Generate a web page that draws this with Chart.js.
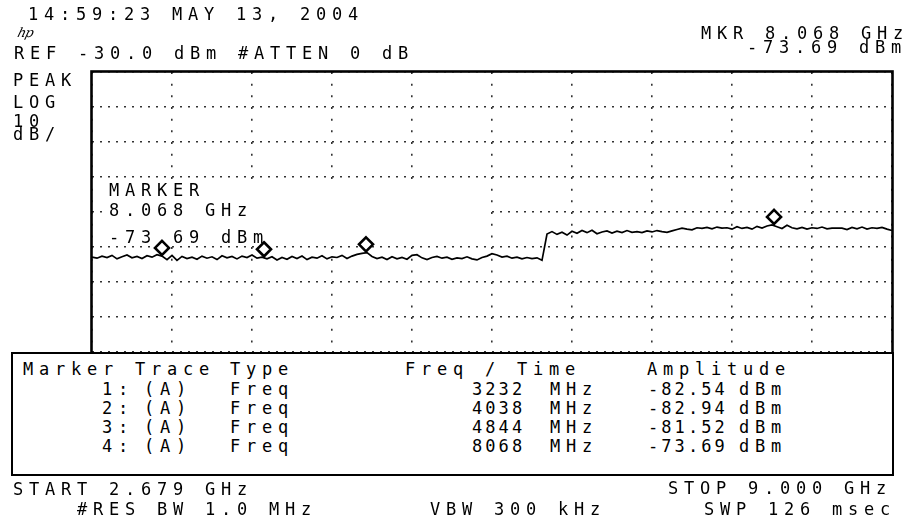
<!DOCTYPE html>
<html>
<head>
<meta charset="utf-8">
<script src="https://cdn.jsdelivr.net/npm/chart.js@4.4.1/dist/chart.umd.min.js"></script>
<style>
  body { margin: 0; background: #fff; }
  #wrap { position: relative; width: 906px; height: 521px; overflow: hidden; background: #fff; }
  #plot { position: absolute; left: 0; top: 0; }
  .t { position: absolute; font-family: "DejaVu Sans Mono", monospace; font-size: 17px; line-height: 17px;
       letter-spacing: 5.77px; white-space: pre; color: #000; z-index: 3; }
  .n { letter-spacing: 3.07px; }
  #table { position: absolute; left: 11px; top: 352px; width: 883px; height: 124px; box-sizing: border-box;
           border: 2.3px solid #000; background: #fff; z-index: 2; }
  #logo { position: absolute; left: 18px; top: 25px; font: italic 13px "DejaVu Serif", serif; letter-spacing: -1px;
          transform: skewX(-15deg); z-index: 3; }
</style>
</head>
<body>
<div id="wrap">
  <canvas id="plot" width="906" height="521"></canvas>
  <div id="table"></div>
  <div id="logo">hp</div>
</div>
<script>
// sweep settings
const START_MHZ = 2679;
const STOP_MHZ = 9000;
const REF_DBM = -30;
const DB_PER_DIV = 10;

// trace amplitude (dBm), 161 sweep points from start to stop
const trace = [
  -82.9, -83.2, -82.6, -83.0, -82.4, -83.4, -82.8, -82.3, -83.1, -82.7,
  -83.3, -82.5, -82.9, -82.2, -82.6, -83.6, -82.4, -83.8, -82.7, -83.3,
  -82.9, -83.5, -82.6, -83.2, -82.8, -83.6, -82.5, -83.1, -82.7, -83.4,
  -82.6, -83.0, -82.3, -83.2, -82.9, -83.4, -82.8, -83.7, -83.0, -83.5,
  -82.7, -83.3, -82.6, -83.6, -82.9, -83.2, -82.5, -83.4, -82.8, -83.0,
  -82.4, -83.3, -82.6, -82.1, -81.8, -81.6, -82.7, -83.3, -82.9, -83.6,
  -82.8, -83.4, -83.0, -83.5, -82.4, -82.2, -83.1, -83.6, -83.0, -82.7,
  -83.2, -82.9, -83.5, -83.1, -83.3, -82.8, -83.4, -83.7, -83.0, -82.6,
  -81.9, -82.3, -82.9, -82.6, -83.2, -82.9, -83.4, -83.0, -83.3, -83.1,
  -83.8, -76.3, -75.6, -76.4, -75.8, -76.6, -75.5, -76.1, -75.3, -75.9,
  -75.2, -76.2, -75.7, -75.4, -76.0, -75.5, -75.9, -75.3, -75.8, -75.6,
  -75.9, -75.4, -75.7, -75.3, -75.6, -75.8, -75.4, -75.0, -74.6, -74.9,
  -75.1, -74.5, -74.7, -74.4, -74.8, -74.3, -74.6, -74.5, -74.9, -74.2,
  -74.7, -74.4, -74.9, -74.1, -74.6, -74.0, -73.7, -74.2, -74.7, -73.8,
  -74.5, -74.8, -74.4, -74.9, -74.5, -74.7, -74.3, -74.8, -74.6, -74.6,
  -74.6, -75.0, -74.4, -74.8, -74.3, -74.9, -74.5, -74.7, -74.4, -74.9,
  -75.3
];

// marker table
const markerNum = [1, 2, 3, 4];
const markerTrace = ["(A)", "(A)", "(A)", "(A)"];
const markerType = ["Freq", "Freq", "Freq", "Freq"];
const markerFreq = [3232, 4038, 4844, 8068];
const markerAmp = [-82.54, -82.94, -81.52, -73.69];

let span = STOP_MHZ - START_MHZ;
let tracePoints = trace.map((v, i) => ({ x: START_MHZ + i * span / (trace.length - 1), y: v }));
let markerPoints = markerFreq.map((f, i) => ({ x: f, y: markerAmp[i] }));
let freqGrid = [];
for (let k = 0; k <= 10; k++) freqGrid.push(START_MHZ + k * span / 10);

function put(text, left, baseline, cls) {
    let d = document.createElement("div");
    d.className = "t" + (cls ? " " + cls : "");
    d.textContent = text;
    d.style.left = left + "px";
    d.style.top = (baseline - 14.4) + "px";
    document.getElementById("wrap").appendChild(d);
}

// screen annotations
put("14:59:23 MAY 13, 2004", 28, 20);
put("REF " + REF_DBM.toFixed(1) + " dBm #ATTEN 0 dB", 14, 59);
put("MKR " + (markerFreq[3] / 1000).toFixed(3) + " GHz", 701, 39);
put(markerAmp[3].toFixed(2) + " dBm", 747, 53);
put("PEAK", 13, 86);
put("LOG", 13, 108);
put(String(DB_PER_DIV), 13, 127);
put("dB/", 13, 140);
put("START " + (START_MHZ / 1000).toFixed(3) + " GHz", 13, 495);
put("#RES BW 1.0 MHz", 77, 515);
put("VBW 300 kHz", 430, 515);
put("STOP " + (STOP_MHZ / 1000).toFixed(3) + " GHz", 668, 494);
put("SWP 126 msec", 704, 515);

// table text
put("Marker", 23, 375);
put("Trace", 135, 375);
put("Type", 230, 375);
put("Freq / Time", 405, 375);
put("Amplitude", 647, 375);
markerNum.forEach((m, i) => {
    let b = 395 + i * 19;
    put(m + ":", 102, b);
    put(markerTrace[i], 144, b);
    put(markerType[i], 230, b);
    put(String(markerFreq[i]), 472, b, "n");
    put("MHz", 550, b);
    put(markerAmp[i].toFixed(2), 648, b, "n");
    put("dBm", 739, b);
});

const hpPlugin = {
    id: "hpScreen",
    beforeDatasetsDraw(chart) {
        let { ctx, chartArea } = chart;
        ctx.save();
        // blanked region under the marker readout
        ctx.fillStyle = "#fff";
        ctx.fillRect(chartArea.left + 16, chartArea.top + 108, 380, 66);
        ctx.fillStyle = "#000";
        ctx.font = '17px "DejaVu Sans Mono"';
        ctx.letterSpacing = "5.77px";
        ctx.fillText("MARKER", 109, 196);
        ctx.fillText((markerFreq[3] / 1000).toFixed(3) + " GHz", 109, 216);
        ctx.fillText(markerAmp[3].toFixed(2) + " dBm", 109, 243);
        ctx.restore();
    },
    afterDatasetsDraw(chart) {
        let { ctx, chartArea } = chart;
        let meta = chart.getDatasetMeta(1);
        ctx.save();
        meta.data.forEach(p => {
            let cx = p.x, cy = p.y - 8, r = 7;
            ctx.beginPath();
            ctx.moveTo(cx, cy - r);
            ctx.lineTo(cx + r, cy);
            ctx.lineTo(cx, cy + r);
            ctx.lineTo(cx - r, cy);
            ctx.closePath();
            ctx.fillStyle = "#fff";
            ctx.fill();
            ctx.lineWidth = 2.6;
            ctx.strokeStyle = "#000";
            ctx.stroke();
        });
        // graticule frame
        ctx.lineWidth = 2.6;
        ctx.strokeStyle = "#000";
        ctx.strokeRect(chartArea.left - 0.5, chartArea.top - 0.5, chartArea.right - chartArea.left + 1, chartArea.bottom - chartArea.top + 1);
        ctx.restore();
    }
};

new Chart(document.getElementById("plot").getContext("2d"), {
    type: "line",
    data: {
        datasets: [
            { data: tracePoints, borderColor: "#000", borderWidth: 1.7, pointRadius: 0, tension: 0 },
            { data: markerPoints, showLine: false, pointRadius: 0, borderColor: "#000" }
        ]
    },
    options: {
        responsive: false,
        animation: false,
        devicePixelRatio: 1,
        layout: { autoPadding: false, padding: { left: 92, top: 72, right: 14, bottom: 99 } },
        plugins: { legend: { display: false }, tooltip: { enabled: false } },
        scales: {
            x: {
                type: "linear", min: START_MHZ, max: STOP_MHZ,
                afterBuildTicks: axis => { axis.ticks = freqGrid.map(v => ({ value: v })); },
                ticks: { display: false },
                grid: { color: "#333", lineWidth: 1.6, drawTicks: false },
                border: { display: false, dash: [2, 9.67] }
            },
            y: {
                min: REF_DBM - 10 * DB_PER_DIV, max: REF_DBM,
                ticks: { display: false, stepSize: DB_PER_DIV },
                grid: { color: "#333", lineWidth: 1.6, drawTicks: false },
                border: { display: false, dash: [2, 6] }
            }
        }
    },
    plugins: [hpPlugin]
});
</script>
</body>
</html>
